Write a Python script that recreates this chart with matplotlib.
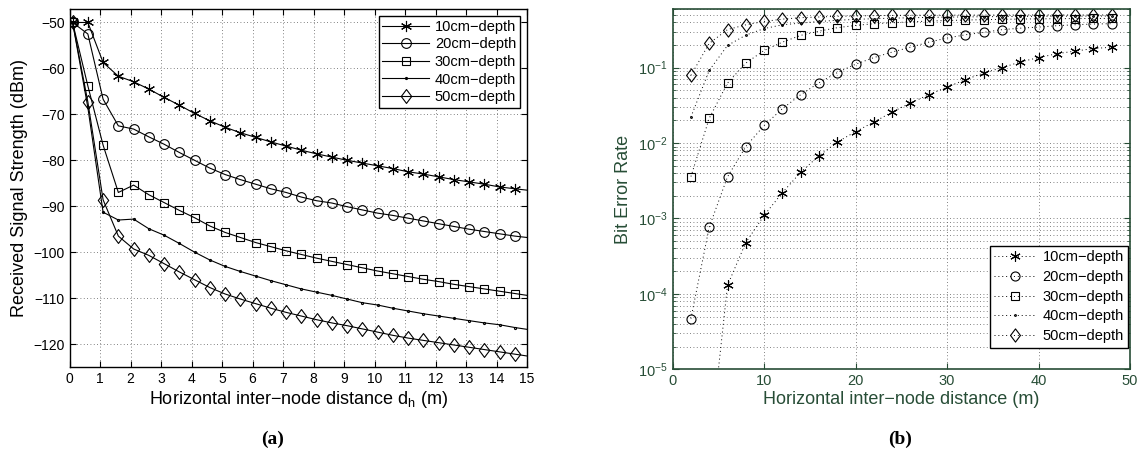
# plot.py
# signal strength vs distance + BER vs distance (two panels)

import matplotlib.pyplot as plt
from matplotlib.path import Path
from matplotlib.ticker import LogLocator, NullFormatter

# -----------------------------------
# DATA
# -----------------------------------
depth_labels = ["10cm\u2212depth", "20cm\u2212depth", "30cm\u2212depth",
                "40cm\u2212depth", "50cm\u2212depth"]

# panel (a): received signal strength (dBm)
dist_a = [0.1, 0.6, 1.1, 1.6, 2.1, 2.6, 3.1, 3.6, 4.1, 4.6,
          5.1, 5.6, 6.1, 6.6, 7.1, 7.6, 8.1, 8.6, 9.1, 9.6,
          10.1, 10.6, 11.1, 11.6, 12.1, 12.6, 13.1, 13.6, 14.1, 14.6, 15.0]

rss_10 = [-50, -50, -58.7, -61.7, -62.9, -64.5, -66.3, -68.0, -69.8, -71.4,
          -72.8, -74.0, -75.0, -76.0, -76.9, -77.8, -78.6, -79.3, -80.0, -80.6,
          -81.2, -81.8, -82.5, -83.0, -83.6, -84.2, -84.7, -85.2, -85.8, -86.2, -86.5]
rss_20 = [-50, -52.5, -66.7, -72.5, -73.2, -74.9, -76.5, -78.3, -80.0, -81.7,
          -83.1, -84.2, -85.2, -86.2, -87.0, -88.0, -88.8, -89.3, -90.1, -90.8,
          -91.5, -92.0, -92.6, -93.2, -93.8, -94.4, -95.0, -95.5, -96.0, -96.5, -96.8]
rss_30 = [-50, -63.8, -76.7, -87.0, -85.4, -87.5, -89.2, -90.9, -92.5, -94.3,
          -95.7, -96.8, -97.9, -98.8, -99.7, -100.5, -101.3, -102.0, -102.7, -103.4,
          -104.1, -104.7, -105.3, -105.9, -106.4, -107.0, -107.5, -108.0, -108.5, -109.0, -109.4]
rss_40 = [-50, -68.5, -91.3, -93.0, -92.8, -94.9, -96.3, -98.1, -100.0, -101.7,
          -103.1, -104.2, -105.2, -106.2, -107.1, -108.0, -108.7, -109.4, -110.2, -111.0,
          -111.5, -112.2, -112.8, -113.4, -113.9, -114.4, -114.9, -115.4, -115.8, -116.4, -116.8]
rss_50 = [-50, -67.3, -88.6, -96.5, -99.3, -100.7, -102.5, -104.3, -106.0, -107.7,
          -109.1, -110.2, -111.2, -112.2, -113.1, -113.9, -114.7, -115.4, -116.0, -116.7,
          -117.4, -118.1, -118.7, -119.2, -119.7, -120.2, -120.7, -121.2, -121.7, -122.2, -122.6]

# panel (b): bit error rate
dist_b = [2, 4, 6, 8, 10, 12, 14, 16, 18, 20, 22, 24,
          26, 28, 30, 32, 34, 36, 38, 40, 42, 44, 46, 48]

ber_10 = [1e-9, 7.5e-7, 1.3e-4, 4.8e-4, 1.1e-3, 2.2e-3, 4.1e-3, 6.8e-3,
          1.03e-2, 1.42e-2, 1.9e-2, 2.58e-2, 3.4e-2, 4.38e-2, 5.53e-2, 6.93e-2,
          8.5e-2, 0.100, 0.119, 0.136, 0.153, 0.166, 0.179, 0.187]
ber_20 = [4.7e-5, 7.7e-4, 3.57e-3, 9.0e-3, 1.71e-2, 2.86e-2, 4.38e-2, 6.3e-2,
          8.6e-2, 0.111, 0.136, 0.161, 0.187, 0.218, 0.247, 0.273,
          0.294, 0.319, 0.334, 0.345, 0.360, 0.371, 0.379, 0.383]
ber_30 = [3.6e-3, 2.13e-2, 6.25e-2, 0.115, 0.169, 0.218, 0.268, 0.305,
          0.339, 0.363, 0.383, 0.394, 0.405, 0.415, 0.422, 0.428,
          0.433, 0.437, 0.441, 0.444, 0.446, 0.448, 0.449, 0.450]
ber_40 = [2.22e-2, 9.2e-2, 0.197, 0.270, 0.330, 0.370, 0.390, 0.410,
          0.425, 0.437, 0.446, 0.453, 0.459, 0.464, 0.468, 0.471,
          0.474, 0.476, 0.478, 0.480, 0.481, 0.482, 0.483, 0.484]
ber_50 = [7.9e-2, 0.210, 0.320, 0.370, 0.410, 0.440, 0.460, 0.470,
          0.480, 0.485, 0.490, 0.493, 0.495, 0.496, 0.497, 0.498,
          0.498, 0.499, 0.499, 0.500, 0.500, 0.500, 0.500, 0.500]

rss_series = [rss_10, rss_20, rss_30, rss_40, rss_50]
ber_series = [ber_10, ber_20, ber_30, ber_40, ber_50]

# -----------------------------------
# STYLE
# -----------------------------------
plt.rcParams["font.family"] = ["Liberation Sans", "DejaVu Sans"]
plt.rcParams["mathtext.fontset"] = "custom"
plt.rcParams["mathtext.rm"] = "Liberation Sans"
plt.rcParams["mathtext.it"] = "Liberation Sans:italic"

# matlab-like diamond (a bit taller than wide)
diamond = Path([(0, 1), (0.75, 0), (0, -1), (-0.75, 0), (0, 1)],
               [Path.MOVETO, Path.LINETO, Path.LINETO, Path.LINETO, Path.CLOSEPOLY])

markers = [(6, 2, 0), "o", "s", ".", diamond]
msizes = [8, 7, 6, 3, 10]
green = "#274d36"

fig = plt.figure(figsize=(11.42, 4.63), dpi=100)

# -----------------------------------
# PANEL (a)
# -----------------------------------
ax1 = fig.add_axes([0.0609, 0.2073, 0.4006, 0.7739])

for y, mk, ms, lab in zip(rss_series, markers, msizes, depth_labels):
    ax1.plot(dist_a, y, color="black", linewidth=0.8,
             marker=mk, markersize=ms, markerfacecolor="none",
             markeredgecolor="black", markeredgewidth=0.8,
             markevery=list(range(30)), label=lab)

ax1.set_xlim(0, 15)
ax1.set_ylim(-125, -47)
ax1.set_xticks(range(0, 16))
ax1.set_yticks(range(-120, -49, 10))
ax1.set_yticklabels([f"\u2212{abs(v)}" for v in range(-120, -49, 10)])
ax1.tick_params(direction="in", top=True, right=True, labelsize=10, length=4)
ax1.grid(True, color="0.35", linestyle=(0, (1, 3)), linewidth=0.6)
for s in ax1.spines.values():
    s.set_linewidth(1.0)

ax1.set_xlabel("Horizontal inter\u2212node distance d$_{\\mathregular{h}}$ (m)",
               fontsize=13, labelpad=2)
ax1.set_ylabel("Received Signal Strength (dBm)", fontsize=13, labelpad=4)

ax1.legend(loc="upper right", fontsize=10.5, frameon=True, fancybox=False,
           edgecolor="black", framealpha=1, borderpad=0.25, handlelength=3.2,
           handletextpad=0.4, labelspacing=0.25, borderaxespad=0.5)

# -----------------------------------
# PANEL (b)
# -----------------------------------
ax2 = fig.add_axes([0.589, 0.2024, 0.4005, 0.7782])

for y, mk, ms, lab in zip(ber_series, markers, msizes, depth_labels):
    ax2.plot(dist_b, y, color="black", linewidth=0.7, linestyle=(0, (1, 3)),
             marker=mk, markersize=ms - 0.5, markerfacecolor="none",
             markeredgecolor="black", markeredgewidth=0.8, label=lab)

ax2.set_yscale("log")
ax2.set_xlim(0, 50)
ax2.set_ylim(1e-5, 0.6)
ax2.set_xticks([0, 10, 20, 30, 40, 50])
ax2.yaxis.set_major_locator(LogLocator(base=10, numticks=10))
ax2.yaxis.set_minor_locator(LogLocator(base=10, subs=range(2, 10), numticks=10))
ax2.yaxis.set_minor_formatter(NullFormatter())
ax2.tick_params(which="both", direction="in", top=True, right=True,
                colors=green, labelsize=10.5)
ax2.tick_params(which="major", length=4)
ax2.tick_params(which="minor", length=2)
ax2.grid(True, which="major", color="0.35", linestyle=(0, (1, 3)), linewidth=0.6)
ax2.grid(True, which="minor", axis="y", color="0.35", linestyle=(0, (1, 3)),
         linewidth=0.6)
for s in ax2.spines.values():
    s.set_color(green)
    s.set_linewidth(1.2)

ax2.set_xlabel("Horizontal inter\u2212node distance (m)", fontsize=13,
               color=green, labelpad=2)
ax2.set_ylabel("Bit Error Rate", fontsize=13, color=green, labelpad=4)

ax2.legend(loc="lower right", bbox_to_anchor=(0.996, 0.06),
           fontsize=10.5, frameon=True, fancybox=False,
           edgecolor="black", framealpha=1, borderpad=0.3, handlelength=2.8,
           handletextpad=0.5, labelspacing=0.4, borderaxespad=0.0)

# -----------------------------------
# SUB-CAPTIONS
# -----------------------------------
fig.text(0.2385, 0.042, "(a)", fontsize=14, fontweight="bold",
         family="Liberation Serif", ha="center")
fig.text(0.788, 0.042, "(b)", fontsize=14, fontweight="bold",
         family="Liberation Serif", ha="center")

fig.savefig("out.png", dpi=100)
